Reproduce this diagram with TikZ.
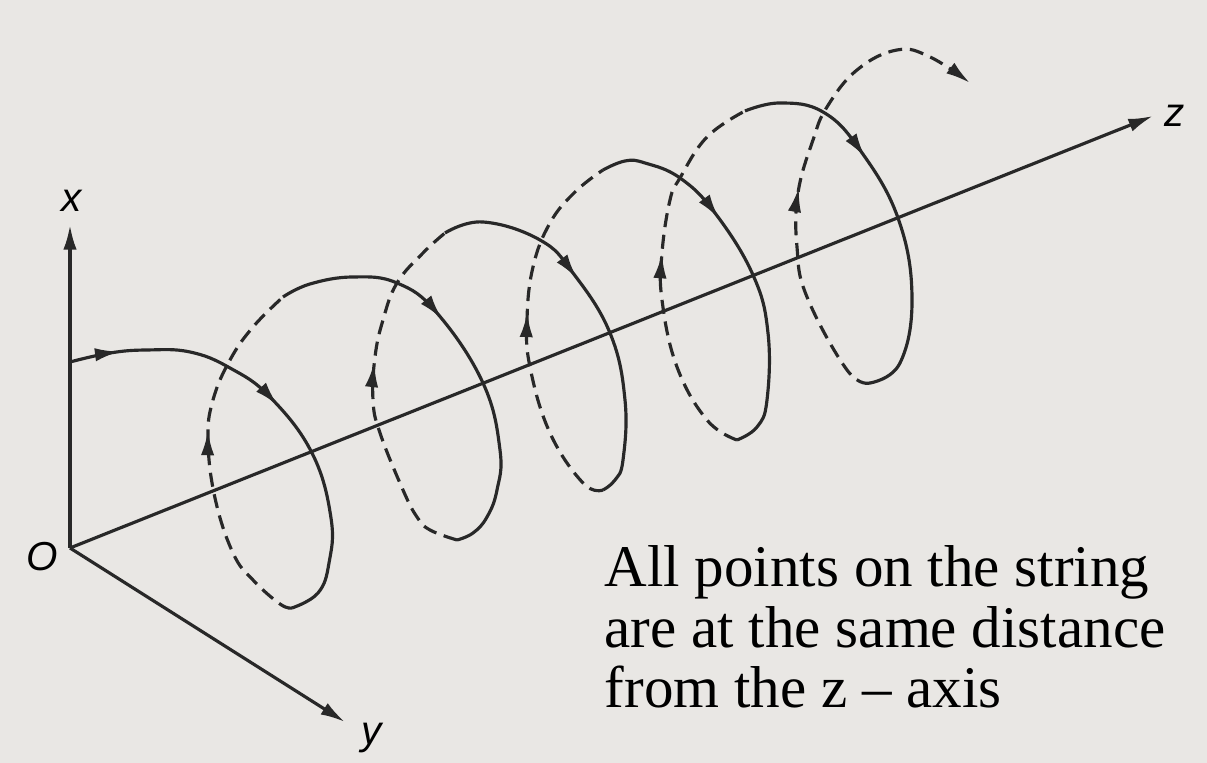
\documentclass[tikz,border=0pt]{standalone}
\usepackage{fontspec}
\setmainfont{Liberation Serif}
\newfontfamily\labelfont{Liberation Sans}
\usetikzlibrary{arrows.meta}
\usetikzlibrary{decorations.markings}

\definecolor{paper}{RGB}{233,231,228}
\definecolor{ink}{RGB}{40,40,40}

\tikzset{
  helixtip/.tip={Latex[length=7pt,width=3.8pt]},
  axis/.style={ink, line width=0.9pt, -{helixtip}},
  front/.style={ink, line width=0.9pt},
  back/.style={ink, line width=0.9pt, dash pattern=on 4pt off 2.2pt},
  flow/.style={postaction={decorate, decoration={markings,
    mark=at position #1 with {\arrow{helixtip}}}}},
  lab/.style={inner sep=0pt, font=\labelfont\itshape\fontsize{11.5}{13}\selectfont}
}

\begin{document}
\begin{tikzpicture}
\useasboundingbox (-0.70,-2.15) rectangle (11.37,5.48);
\fill[paper] (-0.70,-2.15) rectangle (11.37,5.48);

\coordinate (O) at (0,0);
\coordinate (xend) at (0,3.23);
\coordinate (yend) at (2.75,-1.74);
\coordinate (zend) at (10.83,4.32);

\draw[axis] (O) -- (xend);
\draw[axis] (O) -- (yend);
\draw[axis] (O) -- (zend);

\node[lab] (olab) at (-0.28,-0.09) {O};
\node[lab] (xlab) at (0.02,3.47) {x};
\node[lab] (ylab) at (3.02,-1.90) {y};
\node[lab] (zlab) at (11.05,4.32) {z};

\draw[front, flow=0.11, flow=0.49] plot[smooth, tension=0.7] coordinates {(0,1.86) (0.40,1.95) (0.77,1.98) (1.20,1.96) (1.60,1.80) (2.00,1.51) (2.42,0.95) (2.61,0.30) (2.59,-0.15) (2.48,-0.45) (2.22,-0.60)};
\draw[back, flow=0.57] plot[smooth, tension=0.7] coordinates {(2.22,-0.60) (2.10,-0.56) (1.83,-0.32) (1.63,-0.05) (1.45,0.50) (1.38,1.08) (1.43,1.48) (1.60,1.88) (1.83,2.21) (2.13,2.51)};

\draw[front, flow=0.41] plot[smooth, tension=0.7] coordinates {(2.13,2.51) (2.40,2.64) (2.83,2.71) (3.27,2.65) (3.67,2.35) (4.13,1.65) (4.30,0.98) (4.27,0.58) (4.17,0.31) (4.03,0.15) (3.87,0.08)};
\draw[back, flow=0.58] plot[smooth, tension=0.7] coordinates {(3.87,0.08) (3.60,0.18) (3.47,0.31) (3.33,0.58) (3.10,1.15) (3.03,1.48) (3.05,1.91) (3.13,2.28) (3.27,2.65) (3.53,2.95) (3.75,3.15)};

\draw[front, flow=0.40] plot[smooth, tension=0.7] coordinates {(3.75,3.15) (4.13,3.26) (4.70,3.08) (5.03,2.75) (5.40,2.15) (5.55,1.48) (5.53,0.88) (5.45,0.68) (5.33,0.58)};
\draw[back, flow=0.55] plot[smooth, tension=0.7] coordinates {(5.33,0.58) (5.13,0.65) (4.80,1.15) (4.60,1.81) (4.57,2.28) (4.63,2.81) (4.80,3.25) (5.05,3.56) (5.33,3.78)};

\draw[front, flow=0.36] plot[smooth, tension=0.7] coordinates {(5.33,3.78) (5.55,3.87) (5.75,3.85) (6.10,3.70) (6.45,3.35) (6.83,2.73) (6.98,2.15) (6.97,1.48) (6.87,1.21) (6.67,1.08)};
\draw[back, flow=0.55] plot[smooth, tension=0.7] coordinates {(6.67,1.08) (6.37,1.28) (6.07,1.81) (5.92,2.48) (5.92,2.95) (6.00,3.48) (6.10,3.70) (6.37,4.11) (6.75,4.37)};

\draw[front, flow=0.36] plot[smooth, tension=0.7] coordinates {(6.75,4.37) (7.10,4.45) (7.53,4.36) (7.90,3.98) (8.28,3.30) (8.42,2.51) (8.30,1.85) (8.00,1.65)};
\draw[back, flow=0.46, -{helixtip}] plot[smooth, tension=0.7] coordinates {(8.00,1.65) (7.77,1.78) (7.37,2.51) (7.27,3.01) (7.28,3.55) (7.43,4.08) (7.57,4.41) (7.87,4.78) (8.27,4.98) (8.60,4.91) (9.00,4.65)};

\node[anchor=north west, inner sep=0pt, align=left, font=\fontsize{16.8}{17.2}\selectfont] (note) at (5.34,0.03) {All points on the string\\are at the same distance\\from the z – axis};

\end{tikzpicture}
\end{document}
